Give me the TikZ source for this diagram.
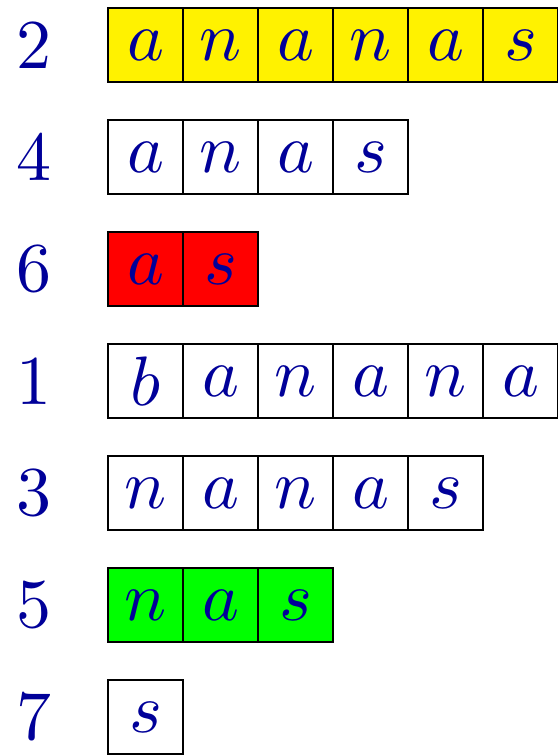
\documentclass[tikz,border=0pt]{standalone}
\usetikzlibrary{positioning}
\definecolor{ink}{rgb}{0,0,0.6}
\definecolor{leaf}{rgb}{0,1,0}

\newcommand{\bigtext}[1]{\scalebox{7}{#1}}
\tikzset{
  cell/.style={draw, line width=2.5pt, minimum width=75pt, minimum height=74pt,
    inner sep=0pt, outer sep=0pt, text=ink},
  rank/.style={text=ink}
}

\begin{document}
\begin{tikzpicture}[x=1pt, y=-1pt]
  \useasboundingbox (0,0) rectangle (557,755);

  % suffixes in sorted order
  \foreach \r/\w/\f [count=\i] in {2/{a,n,a,n,a,s}/yellow, 4/{a,n,a,s}/white,
      6/{a,s}/red, 1/{b,a,n,a,n,a}/white, 3/{n,a,n,a,s}/white,
      5/{n,a,s}/leaf, 7/{s}/white}
  {
    \node[rank] (rk\i) at (34,{45+112*(\i-1)}) {\bigtext{\r}};
    \foreach \l [count=\j] in \w
      \node[cell, fill=\f] (c\i-\j) at ({145.5+75*(\j-1)},{45+112*(\i-1)}) {\bigtext{$\l$}};
  }
\end{tikzpicture}
\end{document}
